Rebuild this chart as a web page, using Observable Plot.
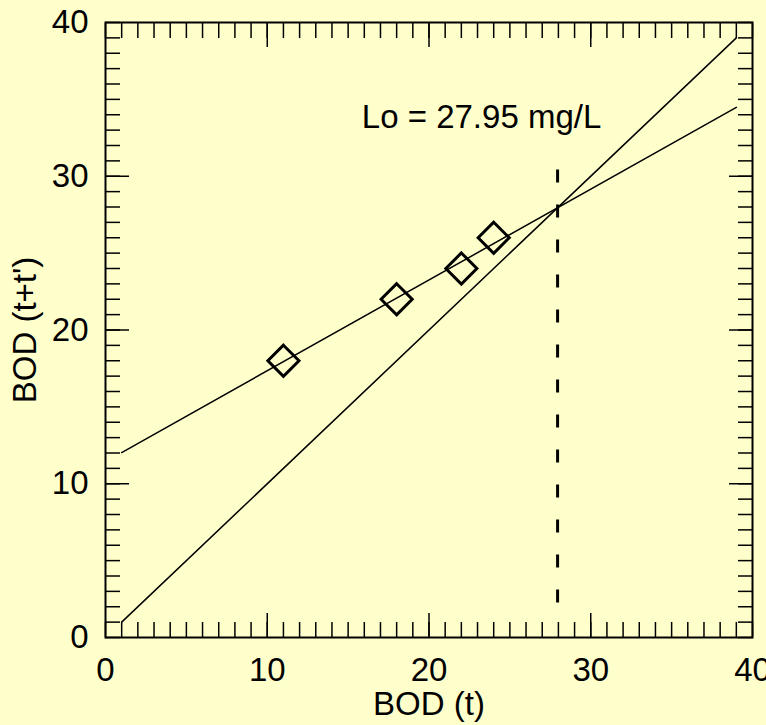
<!DOCTYPE html>
<html><head><meta charset="utf-8">
<script src="https://cdn.jsdelivr.net/npm/d3@7"></script>
<script src="https://cdn.jsdelivr.net/npm/@observablehq/plot@0.6"></script>
<style>html,body{margin:0;padding:0;background:#ffffcc;overflow:hidden}</style>
</head><body><div id="chart"></div>
<script>
// measured BOD points
const bodT = [11, 18, 22, 24];
const bodTT = [18, 22, 24, 26];
// fitted line and 1:1 line end points
const lineX = [1, 39];
const oneToOneY = [1, 39];
const fitY = [12.03, 34.48];
// ultimate BOD marker
const loValue = 27.95;
const loLineTop = 30.4;
const loLineBottom = 1;
const annotX = [23.25];
const annotY = [33.8];
const annotText = ["Lo = 27.95 mg/L"];
// ticks
const majorTicks = [0, 10, 20, 30, 40];
const minorTicks = d3.range(0, 41, 1);
const innerMajor = [10, 20, 30];

const points = bodT.map((x, i) => ({x, y: bodTT[i]}));
const oneToOne = lineX.map((x, i) => ({x, y: oneToOneY[i]}));
const fit = lineX.map((x, i) => ({x, y: fitY[i]}));
const annot = annotX.map((x, i) => ({x, y: annotY[i], t: annotText[i]}));

const tickOpts = {stroke: "black", strokeWidth: 1.5, fill: "none"};

const chart = Plot.plot({
  width: 766,
  height: 725,
  marginTop: 22,
  marginRight: 14,
  marginBottom: 88,
  marginLeft: 105,
  style: {background: "#ffffcc", fontFamily: "'Liberation Sans', Arial, Helvetica, sans-serif", fontSize: "33px", color: "black"},
  x: {domain: [0, 40], label: null},
  y: {domain: [0, 40], label: null},
  marks: [
    // minor ticks, inward on all sides
    Plot.axisX(minorTicks, {anchor: "bottom", tickSize: -15, ...tickOpts}),
    Plot.axisX(minorTicks, {anchor: "top", tickSize: -15, ...tickOpts}),
    Plot.axisY(minorTicks, {anchor: "left", tickSize: -15, ...tickOpts}),
    Plot.axisY(minorTicks, {anchor: "right", tickSize: -15, ...tickOpts}),
    // major ticks
    Plot.axisX(innerMajor, {anchor: "bottom", tickSize: -24, ...tickOpts}),
    Plot.axisX(innerMajor, {anchor: "top", tickSize: -24, ...tickOpts}),
    Plot.axisY(innerMajor, {anchor: "left", tickSize: -24, ...tickOpts}),
    Plot.axisY(innerMajor, {anchor: "right", tickSize: -24, ...tickOpts}),
    // tick labels + axis labels
    Plot.axisX(majorTicks, {anchor: "bottom", tickSize: 0, tickPadding: 20, label: "BOD (t)", labelAnchor: "center", labelOffset: 77, labelArrow: "none", fill: "black"}),
    Plot.axisY(majorTicks, {anchor: "left", tickSize: 0, tickPadding: 17, label: "BOD (t+t')", labelAnchor: "center", labelOffset: 93, labelArrow: "none", fill: "black"}),
    Plot.frame({stroke: "black", strokeWidth: 2}),
    Plot.line(oneToOne, {x: "x", y: "y", stroke: "black", strokeWidth: 1.5}),
    Plot.line(fit, {x: "x", y: "y", stroke: "black", strokeWidth: 1.5}),
    Plot.ruleX([loValue], {x: d => d, y1: loLineTop, y2: loLineBottom, stroke: "black", strokeWidth: 3, strokeDasharray: "13,22"}),
    Plot.dot(points, {x: "x", y: "y", symbol: "diamond2", r: 14, stroke: "black", strokeWidth: 3, fill: "none"}),
    Plot.text(annot, {x: "x", y: "y", text: "t", fill: "black", textAnchor: "middle"})
  ]
});
document.getElementById("chart").appendChild(chart);
</script>
</body></html>
